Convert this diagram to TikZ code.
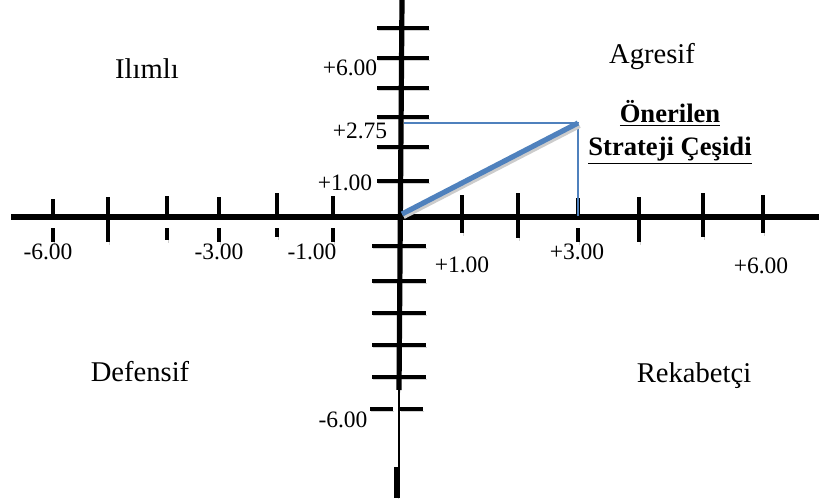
\documentclass[tikz,border=0pt]{standalone}
\usepackage{fontspec}
\setmainfont{Liberation Serif}
\usepackage{tikz}
\usetikzlibrary{positioning,calc}
\definecolor{stratblue}{HTML}{4F81BD}

\tikzset{
  lineshadow/.style={preaction={draw=black!18, transform canvas={shift={(1,2.5)}}}},
  axisline/.style={line width=2.6pt, lineshadow},
  tickline/.style={line width=2.3pt, lineshadow},
  axlabel/.style={anchor=base, inner sep=0pt, font=\fontsize{11.75}{14}\selectfont},
  quadlabel/.style={anchor=base, inner sep=0pt, font=\fontsize{14.3}{17}\selectfont},
  stratlabel/.style={anchor=base, inner sep=0pt, align=center, font=\fontsize{13.3}{16.5}\selectfont\bfseries}
}

\begin{document}
\begin{tikzpicture}[x=0.5pt, y=-0.5pt]
  \useasboundingbox (0,0) rectangle (819,498);

  % Ticks on the horizontal axis
  \foreach \tx/\ta/\tb in {108/197/242, 462/195/233, 518/193/238, 639/197/242, 703/193/237, 763/195/233}
    \draw[tickline] (\tx,\ta) -- (\tx,\tb);
  \foreach \tx/\ta/\tb in {53/199/242, 167/196/240, 219/197/242, 277/193/237, 333/196/242, 578/198/242}
    \draw[tickline] (\tx,\ta) -- (\tx,217) (\tx,228) -- (\tx,\tb);

  % Ticks on the vertical axis
  \foreach \ty in {28,58,88,117,147,181}
    \draw[tickline] (377,\ty) -- (429,\ty);
  \foreach \ty in {246,281,313,345,377}
    \draw[tickline] (372,\ty) -- (426,\ty);
  \draw[tickline] (370,409) -- (393,409) (400,409) -- (423,409);

  % Axes
  \draw[axisline] (11,217) -- (819,217);
  \draw[axisline] (402,0) -- (399,390);
  \draw[line width=0.8pt] (399,390) -- (399,467);
  \draw[axisline] (397,467) -- (397,498);

  % Strategy point
  \coordinate (O) at (402,214);
  \coordinate (P) at (578,123);
  \coordinate (Py) at (404,123);
  \draw[stratblue, line width=0.75pt] (Py) -- (P) -- (P |- 0,216);
  \draw[stratblue, line width=2.6pt, preaction={draw=black!20, line width=2.6pt, transform canvas={shift={(1.5,2.5)}}}] (O) -- (P);

  % Axis values
  \node[axlabel] (yp6) at (350,75) {+6.00};
  \node[axlabel] (yp275) at (360,138) {+2.75};
  \node[axlabel] (yp1) at (345,190) {+1.00};
  \node[axlabel] (ym6) at (343,427) {-6.00};
  \node[axlabel] (xm6) at (48,259) {-6.00};
  \node[axlabel] (xm3) at (219,259) {-3.00};
  \node[axlabel] (xm1) at (312,259) {-1.00};
  \node[axlabel] (xp1) at (462,272) {+1.00};
  \node[axlabel] (xp3) at (577,259) {+3.00};
  \node[axlabel] (xp6) at (761,273) {+6.00};

  % Quadrants
  \node[quadlabel] (ilimli) at (147,78) {Ilımlı};
  \node[quadlabel] (agresif) at (652,63) {Agresif};
  \node[quadlabel] (defensif) at (140,381) {Defensif};
  \node[quadlabel] (rekabetci) at (694,382) {Rekabetçi};

  % Suggested strategy
  \node[stratlabel] (oneri) at (670,122) {\underline{Önerilen}};
  \node[stratlabel] (cesit) at (670,155) {\underline{Strateji Çeşidi}};
\end{tikzpicture}
\end{document}
